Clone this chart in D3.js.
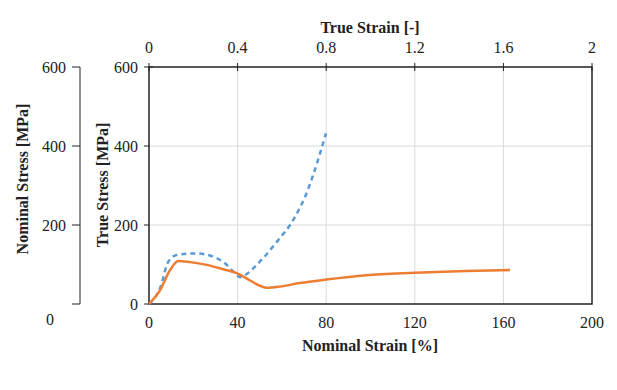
<!DOCTYPE html>
<html>
<head>
<meta charset="utf-8">
<script src="https://cdn.jsdelivr.net/npm/d3@7"></script>
<style>
  body { margin: 0; background: #fff; }
  text { font-family: "Liberation Serif", "Times New Roman", serif; fill: #222; }
</style>
</head>
<body>
<div id="chart"></div>
<script>
// nominal curve: strain [%] vs stress [MPa]
var nominalStrain = [0, 5, 9.5, 13.2, 18.5, 26, 33.5, 39.6, 44, 48.6, 53, 59, 68, 80, 98, 120, 143, 163];
var nominalStress = [0, 35, 86, 109, 106, 99, 88, 78, 65, 50, 41, 44, 53, 62, 73, 79, 83.5, 86];

// true curve: strain [-] vs stress [MPa]
var trueStrain = [0, 0.05, 0.087, 0.125, 0.208, 0.29, 0.343, 0.388, 0.41, 0.433, 0.493, 0.531, 0.569, 0.606, 0.637, 0.674, 0.705, 0.742, 0.772, 0.799];
var trueStress = [0, 40, 107, 124, 128, 120, 103, 78, 68, 73, 103, 126, 152, 177, 200, 236, 272, 328, 381, 432];

var bottomTicks = [0, 40, 80, 120, 160, 200];
var topTicks = [0, 0.4, 0.8, 1.2, 1.6, 2];
var stressTicks = [0, 200, 400, 600];

var width = 617, height = 390;
var svg = d3.select("#chart").append("svg")
    .attr("width", width)
    .attr("height", height);

var x = d3.scaleLinear().domain([0, 200]).range([149, 592]);
var xTop = d3.scaleLinear().domain([0, 2]).range([149, 592]);
var y = d3.scaleLinear().domain([0, 600]).range([304, 67]);

// grid
svg.append("g").selectAll("line.vg")
    .data(bottomTicks.slice(1, -1)).enter()
    .append("line")
    .attr("x1", function (d) { return x(d); })
    .attr("x2", function (d) { return x(d); })
    .attr("y1", y(600)).attr("y2", y(0))
    .attr("stroke", "#d9d9d9").attr("stroke-width", 1);

svg.append("g").selectAll("line.hg")
    .data([200, 400]).enter()
    .append("line")
    .attr("x1", x(0)).attr("x2", x(200))
    .attr("y1", function (d) { return y(d); })
    .attr("y2", function (d) { return y(d); })
    .attr("stroke", "#d9d9d9").attr("stroke-width", 1);

// frame
svg.append("rect")
    .attr("x", x(0)).attr("y", y(600))
    .attr("width", x(200) - x(0)).attr("height", y(0) - y(600))
    .attr("fill", "none").attr("stroke", "#222").attr("stroke-width", 1.5);

// lines
var nominalData = nominalStrain.map(function (d, i) { return [d, nominalStress[i]]; });
var trueData = trueStrain.map(function (d, i) { return [d, trueStress[i]]; });

svg.append("path")
    .datum(trueData)
    .attr("fill", "none")
    .attr("stroke", "#5b9bd5")
    .attr("stroke-width", 2.5)
    .attr("stroke-dasharray", "5,4")
    .attr("d", d3.line()
        .x(function (d) { return xTop(d[0]); })
        .y(function (d) { return y(d[1]); })
        .curve(d3.curveMonotoneX));

svg.append("path")
    .datum(nominalData)
    .attr("fill", "none")
    .attr("stroke", "#ed7d31")
    .attr("stroke-width", 2.5)
    .attr("d", d3.line()
        .x(function (d) { return x(d[0]); })
        .y(function (d) { return y(d[1]); })
        .curve(d3.curveMonotoneX));

// bottom axis labels
svg.append("g").selectAll("text")
    .data(bottomTicks).enter()
    .append("text")
    .attr("x", function (d) { return x(d); })
    .attr("y", 328)
    .attr("text-anchor", "middle")
    .attr("font-size", 16)
    .text(function (d) { return d; });

// top axis ticks + labels
svg.append("g").selectAll("line")
    .data(topTicks).enter()
    .append("line")
    .attr("x1", function (d) { return xTop(d); })
    .attr("x2", function (d) { return xTop(d); })
    .attr("y1", y(600) - 4).attr("y2", y(600) + 4)
    .attr("stroke", "#222").attr("stroke-width", 1);

svg.append("g").selectAll("text")
    .data(topTicks).enter()
    .append("text")
    .attr("x", function (d) { return xTop(d); })
    .attr("y", 53)
    .attr("text-anchor", "middle")
    .attr("font-size", 16)
    .text(function (d) { return d; });

// inner y axis (true stress)
svg.append("g").selectAll("line")
    .data(stressTicks).enter()
    .append("line")
    .attr("x1", x(0) - 5)
    .attr("x2", function (d) { return d === 600 ? x(0) + 4 : x(0); })
    .attr("y1", function (d) { return y(d); })
    .attr("y2", function (d) { return y(d); })
    .attr("stroke", "#222").attr("stroke-width", 1);

svg.append("g").selectAll("text")
    .data(stressTicks).enter()
    .append("text")
    .attr("x", 138)
    .attr("y", function (d) { return y(d) + 5.5; })
    .attr("text-anchor", "end")
    .attr("font-size", 16)
    .text(function (d) { return d; });

// outer y axis (nominal stress)
var axisX = 80;
svg.append("line")
    .attr("x1", axisX).attr("x2", axisX)
    .attr("y1", y(600)).attr("y2", y(0))
    .attr("stroke", "#222").attr("stroke-width", 1);

svg.append("g").selectAll("line")
    .data(stressTicks).enter()
    .append("line")
    .attr("x1", axisX - 8).attr("x2", axisX)
    .attr("y1", function (d) { return y(d); })
    .attr("y2", function (d) { return y(d); })
    .attr("stroke", "#222").attr("stroke-width", 1);

svg.append("g").selectAll("text")
    .data(stressTicks.slice(1)).enter()
    .append("text")
    .attr("x", 66)
    .attr("y", function (d) { return y(d) + 5.5; })
    .attr("text-anchor", "end")
    .attr("font-size", 16)
    .text(function (d) { return d; });

svg.append("text")
    .attr("x", 50).attr("y", 325)
    .attr("text-anchor", "middle")
    .attr("font-size", 16)
    .text("0");

// titles
svg.append("text")
    .attr("x", 370).attr("y", 33)
    .attr("text-anchor", "middle")
    .attr("font-size", 16).attr("font-weight", "bold")
    .text("True Strain [-]");

svg.append("text")
    .attr("x", 370).attr("y", 351)
    .attr("text-anchor", "middle")
    .attr("font-size", 16).attr("font-weight", "bold")
    .text("Nominal Strain [%]");

svg.append("text")
    .attr("transform", "translate(108,185) rotate(-90)")
    .attr("text-anchor", "middle")
    .attr("font-size", 16).attr("font-weight", "bold")
    .text("True Stress [MPa]");

svg.append("text")
    .attr("transform", "translate(28,179) rotate(-90)")
    .attr("text-anchor", "middle")
    .attr("font-size", 16).attr("font-weight", "bold")
    .text("Nominal Stress [MPa]");
</script>
</body>
</html>
